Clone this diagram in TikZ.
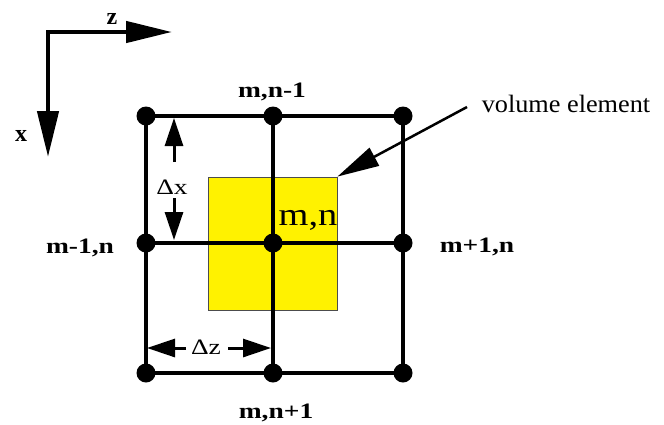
\documentclass[tikz,border=0pt]{standalone}
\usepackage{fontspec}
\setmainfont{Liberation Serif}
\usetikzlibrary{arrows.meta}
\tikzset{
  gridline/.style={line width=3.5pt},
  dotnode/.style={circle,fill=black,inner sep=0pt,minimum size=19pt},
  gridlabel/.style={font=\fontsize{22}{26}\selectfont\bfseries,inner sep=0pt,anchor=base,xscale=1.25},
  dimlabel/.style={font=\fontsize{22}{26}\selectfont,inner sep=0pt,anchor=base,xscale=1.25},
  axislabel/.style={font=\fontsize{24}{28}\selectfont\bfseries,inner sep=0pt,anchor=center},
  axis/.style={line width=4.5pt,line join=miter,{Triangle[length=46pt,width=21pt]}-{Triangle[length=46pt,width=21pt]}},
  dimarrow/.style={line width=3pt,-{Triangle[length=28pt,width=18pt]}},
  volarrow/.style={line width=2.5pt,-{Triangle[length=42pt,width=20pt]}},
}
\begin{document}
\begin{tikzpicture}[x=1pt,y=-1pt]
\useasboundingbox (0,0) rectangle (664,424);
% axes
\coordinate (O) at (48,32);
\coordinate (zt) at (172,32);
\coordinate (xt) at (48,157);
\draw[axis] (zt) -- (O) -- (xt);
\node[axislabel] (zl) at (112,19) {z};
\node[axislabel] (xl) at (21,136) {x};
% volume element
\node[draw=black!70,line width=0.8pt,fill=yellow,minimum width=129pt,minimum height=133pt,inner sep=0pt] (ve) at (272.5,243.5) {};
% grid coordinates
\coordinate (g11) at (146,116);
\coordinate (g12) at (273,116);
\coordinate (g13) at (403,116);
\coordinate (g21) at (146,243);
\coordinate (g22) at (273,243);
\coordinate (g23) at (403,243);
\coordinate (g31) at (146,373);
\coordinate (g32) at (273,373);
\coordinate (g33) at (403,373);
\draw[gridline] (g11) -- (g12) -- (g13);
\draw[gridline] (g21) -- (g22) -- (g23);
\draw[gridline] (g31) -- (g32) -- (g33);
\draw[gridline] (g11) -- (g21) -- (g31);
\draw[gridline] (g12) -- (g22) -- (g32);
\draw[gridline] (g13) -- (g23) -- (g33);
\foreach \n in {11,12,13,21,22,23,31,32,33}{\node[dotnode] (d\n) at (g\n) {};}
% labels
\node[gridlabel] (ltop) at (272,97) {m,n-1};
\node[gridlabel] (lleft) at (80,253) {m-1,n};
\node[gridlabel] (lright) at (477,252) {m+1,n};
\node[gridlabel] (lbot) at (276,418) {m,n+1};
\node[font=\fontsize{32}{36}\selectfont,inner sep=0pt,anchor=base,xscale=1.2] (lmn) at (308,225) {m,n};
\node[font=\fontsize{25}{29}\selectfont,inner sep=0pt,anchor=base,xscale=1.05] (vol) at (566,112) {volume element};
\coordinate (va) at (467,107);
\draw[volarrow] (va) -- (ve.north east);
% delta x
\node[dimlabel] (dx) at (172,194) {Δx};
\coordinate (dxa) at (174,162);
\coordinate (dxat) at (174,118);
\coordinate (dxb) at (174,198);
\coordinate (dxbt) at (174,240);
\draw[dimarrow] (dxa) -- (dxat);
\draw[dimarrow] (dxb) -- (dxbt);
% delta z
\node[dimlabel] (dz) at (206,354) {Δz};
\coordinate (dza) at (186,348);
\coordinate (dzat) at (147,348);
\coordinate (dzb) at (228,348);
\coordinate (dzbt) at (271,348);
\draw[dimarrow] (dza) -- (dzat);
\draw[dimarrow] (dzb) -- (dzbt);
\end{tikzpicture}
\end{document}
